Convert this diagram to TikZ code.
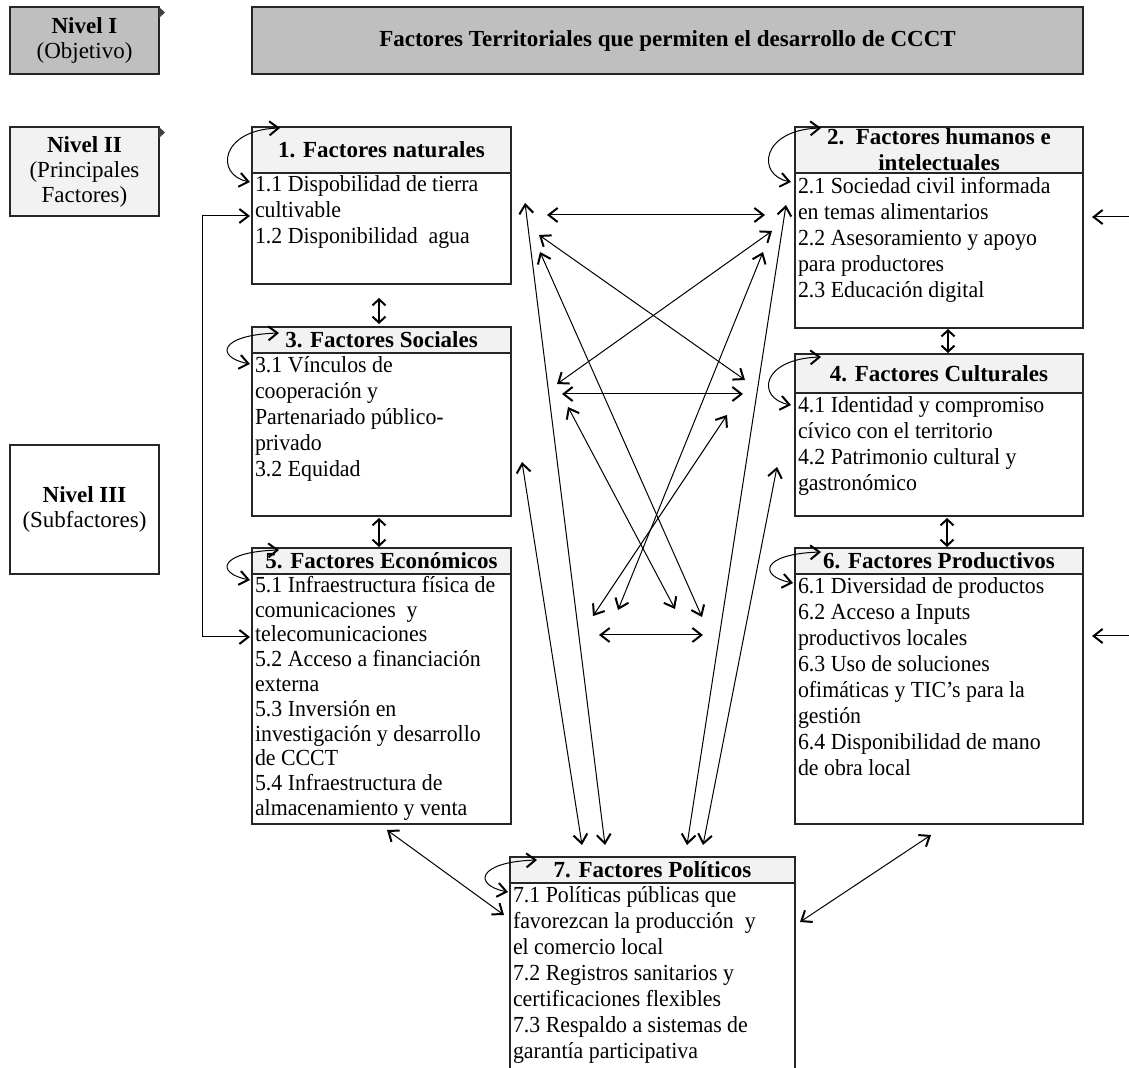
\documentclass[tikz,border=0pt]{standalone}
\usepackage{fontspec}
\setmainfont{Liberation Serif}
\newfontfamily\bodyfont[FakeStretch=0.95]{Liberation Serif}
\usetikzlibrary{arrows.meta}
\begin{document}
\begin{tikzpicture}[x=0.5pt,y=-0.5pt,
  every node/.style={inner sep=0pt, outer sep=0pt},
  bx/.style={draw=black!85, line width=0.7pt, anchor=north west},
  hdr/.style={bx, fill=black!5, font=\fontsize{11.5pt}{13pt}\selectfont\bfseries, align=center},
  txt/.style={anchor=north west, align=left, font=\bodyfont\fontsize{11.5pt}{13pt}\selectfont},
  lvl/.style={bx, align=center, font=\fontsize{11.5pt}{12.5pt}\selectfont, minimum width=74.5pt},
  arr/.style={line width=0.5pt, {Straight Barb[length=4.5pt,width=7pt,line width=1pt]}-{Straight Barb[length=4.5pt,width=7pt,line width=1pt]}},
  varr/.style={line width=0.8pt, {Straight Barb[length=3pt,width=6.5pt,line width=1pt]}-{Straight Barb[length=3pt,width=6.5pt,line width=1pt]}},
  sarr/.style={line width=0.5pt, -{Straight Barb[length=4.5pt,width=7pt,line width=1pt]}},
]
\useasboundingbox (0,0) rectangle (1129,1068);

% level boxes
\node[lvl, fill=black!25, minimum height=33.5pt] (n1) at (10,7) {\textbf{Nivel I}\\(Objetivo)};
\node[lvl, fill=black!5, minimum height=44.5pt] (n2) at (10,127) {\textbf{Nivel II}\\(Principales\\Factores)};
\node[lvl, fill=white, minimum height=64.5pt] (n3) at (10,445) {\textbf{Nivel III}\\(Subfactores)};
\fill[black!75] (n1.north east) -- ++(6,5.5) -- ++(-6,5.5) -- cycle;
\fill[black!75] (n2.north east) -- ++(6,5.5) -- ++(-6,5.5) -- cycle;

% title
\node[bx, fill=black!25, minimum width=415.5pt, minimum height=33.5pt, font=\fontsize{11.5pt}{13pt}\selectfont\bfseries] (title) at (252,7) {Factores Territoriales que permiten el desarrollo de CCCT};

% box 1
\node[hdr, minimum width=129.5pt, minimum height=23pt] (h1) at (252,127) {1. Factores naturales};
\node[bx, minimum width=129.5pt, minimum height=55.5pt] (b1) at (h1.south west) {};
\node[txt, font=\bodyfont\fontsize{11.5pt}{12.8pt}\selectfont] (t1) at ([shift={(3,1)}]b1.north west) {\strut 1.1 Dispobilidad de tierra\\cultivable\\1.2 Disponibilidad\ \ agua};

% box 2
\node[hdr, minimum width=144pt, minimum height=23pt] (h2) at (795,127) {2.\ \ Factores humanos e\\intelectuales};
\node[bx, minimum width=144pt, minimum height=77.5pt] (b2) at (h2.south west) {};
\node[txt] (t2) at ([shift={(3,2)}]b2.north west) {\strut 2.1 Sociedad civil informada\\en temas alimentarios\\2.2 Asesoramiento y apoyo\\para productores\\2.3 Educación digital};

% box 3
\node[hdr, minimum width=129.5pt, minimum height=13pt] (h3) at (252,327) {3. Factores Sociales};
\node[bx, minimum width=129.5pt, minimum height=81.5pt] (b3) at (h3.south west) {};
\node[txt] (t3) at ([shift={(3,1)}]b3.north west) {\strut 3.1 Vínculos de\\cooperación y\\Partenariado público-\\privado\\3.2 Equidad};

% box 4
\node[hdr, minimum width=144pt, minimum height=19.5pt] (h4) at (795,354) {4. Factores Culturales};
\node[bx, minimum width=144pt, minimum height=61.5pt] (b4) at (h4.south west) {};
\node[txt] (t4) at ([shift={(3,1)}]b4.north west) {\strut 4.1 Identidad y compromiso\\cívico con el territorio\\4.2 Patrimonio cultural y\\gastronómico};

% box 5
\node[hdr, minimum width=129.5pt, minimum height=13pt] (h5) at (252,548) {5. Factores Económicos};
\node[bx, minimum width=129.5pt, minimum height=125pt] (b5) at (h5.south west) {};
\node[txt, font=\bodyfont\fontsize{11.5pt}{12.4pt}\selectfont] (t5) at ([shift={(3,1)}]b5.north west) {\strut 5.1 Infraestructura física de\\comunicaciones\ \ y\\telecomunicaciones\\5.2 Acceso a financiación\\externa\\5.3 Inversión en\\investigación y desarrollo\\de CCCT\\5.4 Infraestructura de\\almacenamiento y venta};

% box 6
\node[hdr, minimum width=144pt, minimum height=13pt] (h6) at (795,548) {6. Factores Productivos};
\node[bx, minimum width=144pt, minimum height=125pt] (b6) at (h6.south west) {};
\node[txt] (t6) at ([shift={(3,1)}]b6.north west) {\strut 6.1 Diversidad de productos\\6.2 Acceso a Inputs\\productivos locales\\6.3 Uso de soluciones\\ofimáticas y TIC’s para la\\gestión\\6.4 Disponibilidad de mano\\de obra local};

% box 7
\node[hdr, minimum width=142.5pt, minimum height=13pt] (h7) at (510,857) {7. Factores Políticos};
\node[anchor=north west, minimum width=142.5pt, minimum height=92.5pt] (b7) at (h7.south west) {};
\draw[draw=black!85, line width=0.7pt] (b7.south west) -- (b7.north west) (b7.north east) -- (b7.south east);
\node[txt] (t7) at ([shift={(3,1)}]b7.north west) {\strut 7.1 Políticas públicas que\\favorezcan la producción\ \ y\\el comercio local\\7.2 Registros sanitarios y\\certificaciones flexibles\\7.3 Respaldo a sistemas de\\garantía participativa};

% coordinates
\coordinate (v13a) at (379,298); \coordinate (v13b) at (379,324);
\coordinate (v35a) at (379,518); \coordinate (v35b) at (379,547);
\coordinate (v24a) at (948,329); \coordinate (v24b) at (948,353);
\coordinate (v46a) at (947,518); \coordinate (v46b) at (947,547);
\coordinate (h1a) at (547,215); \coordinate (h1b) at (765,215);
\coordinate (h2a) at (562,394); \coordinate (h2b) at (743,394);
\coordinate (h3a) at (599,635); \coordinate (h3b) at (703,635);
\coordinate (d1a) at (539,235); \coordinate (d1b) at (745,380);
\coordinate (d2a) at (772,231); \coordinate (d2b) at (557,384);
\coordinate (d3a) at (540,252); \coordinate (d3b) at (702,617);
\coordinate (d4a) at (763,252); \coordinate (d4b) at (618,610);
\coordinate (d5a) at (568,407); \coordinate (d5b) at (675,609);
\coordinate (d6a) at (727,415); \coordinate (d6b) at (593,616);
\coordinate (l1a) at (525,203); \coordinate (l1b) at (605,845);
\coordinate (l2a) at (522,462); \coordinate (l2b) at (582,845);
\coordinate (l3a) at (786,205); \coordinate (l3b) at (687,845);
\coordinate (l4a) at (777,467); \coordinate (l4b) at (703,845);
\coordinate (p5a) at (387,830); \coordinate (p5b) at (504,915);
\coordinate (p6a) at (931,835); \coordinate (p6b) at (800,922);
\coordinate (r2a) at (1129,217); \coordinate (r2b) at (1092,217);
\coordinate (r6a) at (1129,636); \coordinate (r6b) at (1092,636);
\coordinate (k1) at (250,216); \coordinate (k2) at (202,216);
\coordinate (k3) at (202,637); \coordinate (k4) at (250,637);
\coordinate (s1b) at (250,182); \coordinate (s1t) at (280,128);
\coordinate (s2b) at (791,182); \coordinate (s2t) at (821,128);
\coordinate (s3b) at (250,364); \coordinate (s3t) at (279,333);
\coordinate (s4b) at (791,405); \coordinate (s4t) at (821,357);
\coordinate (s5b) at (250,580); \coordinate (s5t) at (279,550);
\coordinate (s6b) at (793,583); \coordinate (s6t) at (821,552);
\coordinate (s7b) at (508,892); \coordinate (s7t) at (537,860);

% connectors
\foreach \a/\b in {v13a/v13b,v35a/v35b,v24a/v24b,v46a/v46b}
  \draw[varr] (\a) -- (\b);
\foreach \a/\b in {h1a/h1b,h2a/h2b,h3a/h3b,
  d1a/d1b,d2a/d2b,d3a/d3b,d4a/d4b,d5a/d5b,d6a/d6b,l1a/l1b,l2a/l2b,l3a/l3b,l4a/l4b,p5a/p5b,p6a/p6b}
  \draw[arr] (\a) -- (\b);
\draw[sarr] (r2a) -- (r2b);
\draw[sarr] (r6a) -- (r6b);
\draw[arr] (k1) -- (k2) -- (k3) -- (k4);
\foreach \s in {s1,s2,s3,s4,s5,s6,s7}
  \draw[arr] (\s b) .. controls +(-35,-7) and +(-60,2) .. (\s t);
\end{tikzpicture}
\end{document}
